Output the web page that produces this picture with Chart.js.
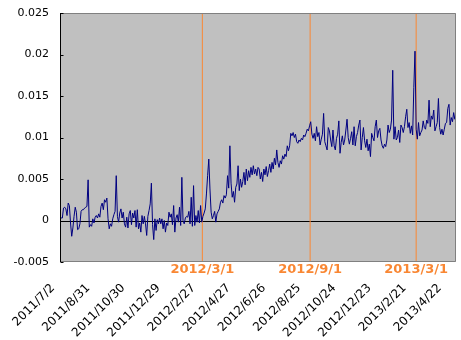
<!DOCTYPE html>
<html>
<head>
<meta charset="utf-8">
<script src="https://cdn.jsdelivr.net/npm/chart.js@4"></script>
<style>
  body { margin: 0; background: #fff; }
  #wrap { width: 461px; height: 340px; }
</style>
</head>
<body>
<div id="wrap"><canvas id="chart" width="461" height="340"></canvas></div>
<script>
// series starts 2011/7/2, one reading every 2 days
const startDate = [2011, 7, 2];
const dayStep = 2;
const values = [
  0.0002, 0.0003, 0.0003, 0.0015, 0.0016, 0.0014, 0.0006, 0.0021, 0.0018, -0.0003,
  -0.0019, -0.0009, 0.0005, 0.0016, 0.0010, -0.0011, -0.0010, -0.0004, 0.0011, 0.0013,
  0.0013, 0.0015, 0.0016, 0.0017, 0.0049, -0.0008, -0.0005, -0.0007, 0.0002, -0.0003,
  0.0004, 0.0006, 0.0003, 0.0008, 0.0004, 0.0017, 0.0021, 0.0013, 0.0025, 0.0022,
  0.0027, 0.0002, -0.0010, -0.0004, -0.0007, 0.0002, 0.0007, 0.0011, 0.0054, 0.0005,
  -0.0002, 0.0009, 0.0014, 0.0003, 0.0010, -0.0004, -0.0008, 0.0004, -0.0009, 0.0008,
  0.0012, -0.0005, 0.0009, 0.0003, 0.0012, -0.0008, 0.0013, -0.0010, -0.0003, -0.0014,
  0.0006, -0.0004, 0.0005, -0.0004, -0.0018, 0.0005, 0.0012, 0.0020, 0.0045, -0.0005,
  -0.0023, 0.0002, -0.0012, 0.0001, -0.0004,
  0.0003, -0.0004, 0.0002, -0.0010, 0.0000, -0.0014, -0.0003, -0.0006, 0.0010, 0.0004,
  0.0008, -0.0005, 0.0018, -0.0014, 0.0003, 0.0007, -0.0002, 0.0016, -0.0006, 0.0052,
  0.0000, -0.0004, 0.0003, 0.0005, 0.0004, 0.0011, -0.0004, 0.0028, -0.0007, 0.0042,
  -0.0006, 0.0006, -0.0002, 0.0012, -0.0003, 0.0018, -0.0002, 0.0005, 0.0009, 0.0014,
  0.0032, 0.0054, 0.0074, 0.0038, 0.0010, 0.0002, 0.0006, 0.0011, -0.0002, 0.0008,
  0.0011, 0.0014, 0.0022, 0.0025, 0.0021, 0.0030, 0.0027, 0.0031, 0.0054, 0.0039,
  0.0090, 0.0045, 0.0028, 0.0035, 0.0022, 0.0040, 0.0044, 0.0066, 0.0036, 0.0050,
  0.0040, 0.0047, 0.0058, 0.0043, 0.0062, 0.0048, 0.0060, 0.0052, 0.0064, 0.0055,
  0.0066, 0.0056, 0.0062, 0.0054, 0.0064, 0.0062,
  0.0050, 0.0058, 0.0047, 0.0062, 0.0055, 0.0065, 0.0053, 0.0060, 0.0068, 0.0058,
  0.0070, 0.0062, 0.0075, 0.0067, 0.0085, 0.0070, 0.0064, 0.0072, 0.0068, 0.0078,
  0.0074, 0.0080, 0.0077, 0.0090, 0.0084, 0.0090, 0.0105, 0.0102, 0.0106, 0.0100,
  0.0104, 0.0095, 0.0093, 0.0097, 0.0095, 0.0099, 0.0097, 0.0103, 0.0101, 0.0105,
  0.0110, 0.0108, 0.0114, 0.0119, 0.0104, 0.0099,
  0.0105, 0.0096, 0.0113, 0.0101, 0.0106, 0.0091, 0.0098, 0.0104, 0.0129, 0.0095,
  0.0090, 0.0085, 0.0112, 0.0108, 0.0097, 0.0089, 0.0109, 0.0090, 0.0085, 0.0099,
  0.0104, 0.0120, 0.0081, 0.0094, 0.0102, 0.0091, 0.0097, 0.0109, 0.0122, 0.0100,
  0.0092, 0.0099, 0.0107, 0.0091, 0.0113, 0.0090, 0.0101, 0.0106, 0.0115,
  0.0121, 0.0085, 0.0100, 0.0112, 0.0096, 0.0088, 0.0098, 0.0084, 0.0092, 0.0077,
  0.0105, 0.0100, 0.0096, 0.0113, 0.0121, 0.0100, 0.0108, 0.0111, 0.0097, 0.0090,
  0.0087, 0.0092, 0.0089, 0.0097, 0.0115, 0.0106, 0.0110, 0.0121, 0.0181, 0.0098,
  0.0113, 0.0097, 0.0100, 0.0109, 0.0094, 0.0115, 0.0112, 0.0106, 0.0113, 0.0125,
  0.0134, 0.0112, 0.0118, 0.0105, 0.0114, 0.0103, 0.0160, 0.0204, 0.0110, 0.0098,
  0.0118, 0.0102, 0.0106, 0.0109, 0.0120, 0.0112, 0.0110, 0.0121, 0.0117, 0.0145,
  0.0113, 0.0126, 0.0122, 0.0133, 0.0108, 0.0113, 0.0118, 0.0147, 0.0112, 0.0104,
  0.0110, 0.0103, 0.0110, 0.0117, 0.0118, 0.0135, 0.0140, 0.0115, 0.0124, 0.0119,
  0.0130, 0.0122, 0.0127
];
const markerDates = ["2012/3/1", "2012/9/1", "2013/3/1"];
const yMin = -0.005, yMax = 0.025, yStep = 0.005;
const xDays = 676, xStep = 60;

const DAY = 86400000;
const t0 = Date.UTC(startDate[0], startDate[1] - 1, startDate[2]);
const dayOf = s => { const [y, m, d] = s.split("/").map(Number); return (Date.UTC(y, m - 1, d) - t0) / DAY; };
const fmtDate = n => { const d = new Date(t0 + n * DAY); return `${d.getUTCFullYear()}/${d.getUTCMonth() + 1}/${d.getUTCDate()}`; };

const ORANGE = "#f98733";
const FONT = "'DejaVu Sans', sans-serif";

const lineData = values.map((v, i) => ({ x: i * dayStep, y: v }));
const markerSets = markerDates.map(s => ({
  data: [{ x: dayOf(s), y: yMin }, { x: dayOf(s), y: yMax }],
  borderColor: ORANGE, borderWidth: 1, pointRadius: 0, order: 2
}));

// grey plot area, frame, zero line, inner ticks and the orange date captions
const plotFrame = {
  id: "plotFrame",
  beforeDraw(chart) {
    const { ctx, chartArea: a } = chart;
    ctx.save();
    ctx.fillStyle = "#c0c0c0";
    ctx.fillRect(a.left, a.top, a.width, a.height);
    ctx.restore();
  },
  beforeDatasetsDraw(chart) {
    const { ctx, chartArea: a, scales } = chart;
    const y0 = Math.round(scales.y.getPixelForValue(0)) + 0.5;
    ctx.save();
    ctx.strokeStyle = "#000";
    ctx.lineWidth = 1;
    ctx.beginPath(); ctx.moveTo(a.left, y0); ctx.lineTo(a.right, y0); ctx.stroke();
    ctx.restore();
  },
  afterDraw(chart) {
    const { ctx, chartArea: a, scales } = chart;
    const L = Math.round(a.left) + 0.5, R = Math.round(a.right) - 0.5;
    const T = Math.round(a.top) + 0.5, B = Math.round(a.bottom) - 0.5;
    ctx.save();
    ctx.lineWidth = 1;
    ctx.strokeStyle = "#808080";
    ctx.beginPath();
    ctx.moveTo(L, T); ctx.lineTo(R, T); ctx.lineTo(R, B); ctx.lineTo(L, B);
    ctx.stroke();
    ctx.strokeStyle = "#000";
    ctx.beginPath(); ctx.moveTo(L, T - 0.5); ctx.lineTo(L, B + 0.5); ctx.stroke();
    scales.y.ticks.forEach(t => {
      const py = Math.round(scales.y.getPixelForValue(t.value)) + 0.5;
      ctx.beginPath(); ctx.moveTo(L, py); ctx.lineTo(L + 3, py); ctx.stroke();
    });
    ctx.fillStyle = ORANGE;
    ctx.font = `bold 13px ${FONT}`;
    ctx.textAlign = "center";
    ctx.textBaseline = "middle";
    markerDates.forEach(s => ctx.fillText(s, scales.x.getPixelForValue(dayOf(s)), a.bottom + 8));
    ctx.restore();
  }
};

new Chart(document.getElementById("chart"), {
  type: "line",
  data: {
    datasets: [
      { data: lineData, borderColor: "#000080", borderWidth: 1, pointRadius: 0, tension: 0, order: 1 },
      ...markerSets
    ]
  },
  options: {
    responsive: false,
    animation: false,
    layout: { padding: { top: 13, right: 5, left: 0, bottom: 0 } },
    plugins: { legend: { display: false }, tooltip: { enabled: false } },
    scales: {
      x: {
        type: "linear", min: 0, max: xDays,
        grid: { display: false, drawTicks: false },
        border: { display: false },
        ticks: {
          stepSize: xStep, includeBounds: false, autoSkip: false,
          minRotation: 45, maxRotation: 45, padding: 19, labelOffset: -7,
          color: "#000", font: { family: FONT, size: 12 },
          callback: v => fmtDate(v)
        },
        afterFit: s => { s.height = 78; s.paddingLeft = 0; s.paddingRight = 0; }
      },
      y: {
        min: yMin, max: yMax,
        grid: { display: false, drawTicks: false },
        border: { display: false },
        ticks: {
          stepSize: yStep, padding: 11,
          color: "#000", font: { family: FONT, size: 11 },
          callback: v => String(+v.toFixed(3))
        },
        afterFit: s => { s.width = 60; s.paddingTop = 0; s.paddingBottom = 0; }
      }
    }
  },
  plugins: [plotFrame]
});
</script>
</body>
</html>
